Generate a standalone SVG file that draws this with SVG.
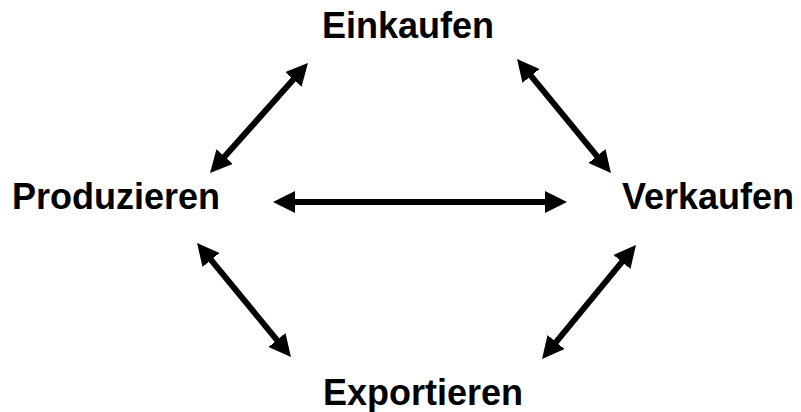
<svg xmlns="http://www.w3.org/2000/svg" width="801" height="412" viewBox="0 0 801 412">
<style>
.lbl{font-family:"Liberation Sans",Arial,sans-serif;font-weight:bold;font-size:36px;fill:#000}
.arr{stroke:#000;stroke-width:6;fill:none;marker-start:url(#ah);marker-end:url(#ah)}
</style>
<defs>
<marker id="ah" markerUnits="userSpaceOnUse" markerWidth="22" markerHeight="22" refX="1" refY="11" orient="auto-start-reverse" viewBox="0 0 22 22">
<path d="M0,0 L22,11 L0,22 z" fill="#000"/>
</marker>
</defs>
<rect width="801" height="412" fill="#fff"/>
<g id="connectors">
<line class="arr" x1="294" y1="202" x2="546" y2="202"/>
<line class="arr" x1="294" y1="78.7" x2="224" y2="157.3"/>
<line class="arr" x1="530.4" y1="75.2" x2="597.6" y2="156.8"/>
<line class="arr" x1="210.4" y1="259.2" x2="277.6" y2="340.8"/>
<line class="arr" x1="622.6" y1="261.2" x2="555.4" y2="342.8"/>
</g>
<g id="einkaufen"><text class="lbl" x="322" y="38">Einkaufen</text></g>
<g id="produzieren"><text class="lbl" x="12" y="209">Produzieren</text></g>
<g id="verkaufen"><text class="lbl" x="622" y="209">Verkaufen</text></g>
<g id="exportieren"><text class="lbl" x="323" y="405">Exportieren</text></g>
</svg>
